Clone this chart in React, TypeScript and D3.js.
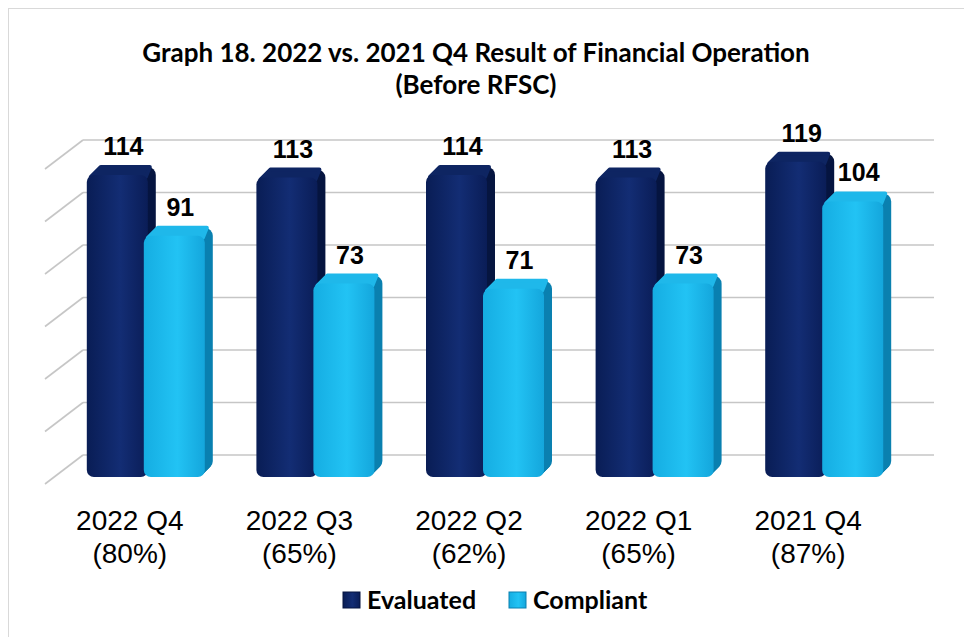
import React from 'react';
import * as d3 from 'd3';

const categories = ['2022 Q4', '2022 Q3', '2022 Q2', '2022 Q1', '2021 Q4'];
const rates = ['(80%)', '(65%)', '(62%)', '(65%)', '(87%)'];
const evaluated = [114, 113, 114, 113, 119];
const compliant = [91, 73, 71, 73, 104];
const gridTicks = [0, 20, 40, 60, 80, 100, 120];

const seriesNames = ['Evaluated', 'Compliant'];

const W = 964;
const H = 637;

// bar colours: front face gradient stops, side, top
const palette = [
  { front: ['#091d55', '#132d74', '#0a1d57'], side: '#061540', top: '#0e2562' },
  { front: ['#15ade2', '#22c3f4', '#14a6dc'], side: '#0a80b0', top: '#1fb8ea' },
];

const App = () => {
  // floor / back wall
  const backLeft = 83;
  const backRight = 934;
  const depthX = -38;
  const depthY = 29;

  const yGrid = d3.scaleLinear().domain([0, 120]).range([455, 140]);
  const yBar = d3.scaleLinear().domain([0, 120]).range([477, 159]);

  const x = d3.scaleBand<string>().domain(categories).range([45, 893]);

  const barW = 61;
  const d = 8; // extrusion depth
  const offsets = [-43, 14]; // from band centre

  const bars: { cat: string; s: number; v: number }[] = [];
  categories.forEach((c, i) => {
    bars.push({ cat: c, s: 0, v: evaluated[i] });
    bars.push({ cat: c, s: 1, v: compliant[i] });
  });

  const base = yBar(0);

  return (
    <svg width={W} height={H} style={{ position: 'absolute', left: 0, top: 0 }}>
      <defs>
        {palette.map((p, i) => (
          <linearGradient key={i} id={`front${i}`} x1="0" x2="1" y1="0" y2="0">
            <stop offset="0%" stopColor={p.front[0]} />
            <stop offset="55%" stopColor={p.front[1]} />
            <stop offset="100%" stopColor={p.front[2]} />
          </linearGradient>
        ))}
      </defs>
      <rect x={0} y={0} width={W} height={H} fill="#fff" />
      <rect x={8.5} y={8.5} width={W} height={H} fill="none" stroke="#d9d9d9" strokeWidth={1} />

      {/* title */}
      <g fontFamily="Lato, 'Open Sans', sans-serif" fontWeight="bold" fontSize={26} textAnchor="middle" fill="#000" style={{ whiteSpace: 'pre' }}>
        <text x={476} y={62}>{'Graph 18. 2022 vs. 2021 Q4  Result of Financial Operation'}</text>
        <text x={476} y={94}>(Before RFSC)</text>
      </g>

      {/* gridlines */}
      <g stroke="#c6c6c6" strokeWidth={1.6} fill="none">
        {gridTicks.map(t => (
          <g key={t}>
            <line x1={backLeft} x2={backRight} y1={yGrid(t)} y2={yGrid(t)} />
            <line x1={backLeft} x2={backLeft + depthX} y1={yGrid(t)} y2={yGrid(t) + depthY} />
          </g>
        ))}
      </g>

      {/* bars */}
      {bars.map((b, i) => {
        const cx = (x(b.cat) as number) + x.bandwidth() / 2;
        const x0 = cx + offsets[b.s];
        const top = yBar(b.v);
        const h = base - top;
        const p = palette[b.s];
        const steps = d3.range(d, 0, -1);
        return (
          <g key={i}>
            {steps.map(k => (
              <rect key={k} x={x0 + k} y={top - k} width={barW} height={h} rx={8} fill={p.side} />
            ))}
            <path
              d={`M${x0 + 4},${top + 2} L${x0 + d + 6},${top - d} L${x0 + barW + d - 6},${top - d} L${x0 + barW - 2},${top + 2} Z`}
              fill={p.top}
              stroke={p.top}
              strokeWidth={4}
              strokeLinejoin="round"
            />
            <rect x={x0} y={top} width={barW} height={h} rx={7} fill={`url(#front${b.s})`} />
          </g>
        );
      })}

      {/* value labels */}
      <g fontFamily="'Liberation Sans', Arial, sans-serif" fontWeight="bold" fontSize={25} textAnchor="middle" fill="#000">
        {bars.map((b, i) => {
          const cx = (x(b.cat) as number) + x.bandwidth() / 2;
          const x0 = cx + offsets[b.s];
          return (
            <text key={i} x={x0 + barW / 2 + d / 2 + 2} y={yBar(b.v) - d - 12}>
              {b.v}
            </text>
          );
        })}
      </g>

      {/* category labels */}
      <g fontFamily="'Liberation Sans', Arial, sans-serif" fontSize={28} textAnchor="middle" fill="#000">
        {categories.map((c, i) => {
          const cx = (x(c) as number) + x.bandwidth() / 2;
          return (
            <g key={c}>
              <text x={cx} y={530}>{c}</text>
              <text x={cx} y={563}>{rates[i]}</text>
            </g>
          );
        })}
      </g>

      {/* legend */}
      <g fontFamily="Lato, 'Open Sans', sans-serif" fontWeight="bold" fontSize={25} fill="#000">
        {seriesNames.map((n, i) => {
          const lx = i === 0 ? 343 : 509;
          return (
            <g key={n}>
              <rect x={lx} y={592} width={17} height={16} fill={`url(#front${i})`} stroke={palette[i].side} strokeWidth={1} />
              <text x={lx + 24} y={609}>{n}</text>
            </g>
          );
        })}
      </g>
    </svg>
  );
};

export default App;
